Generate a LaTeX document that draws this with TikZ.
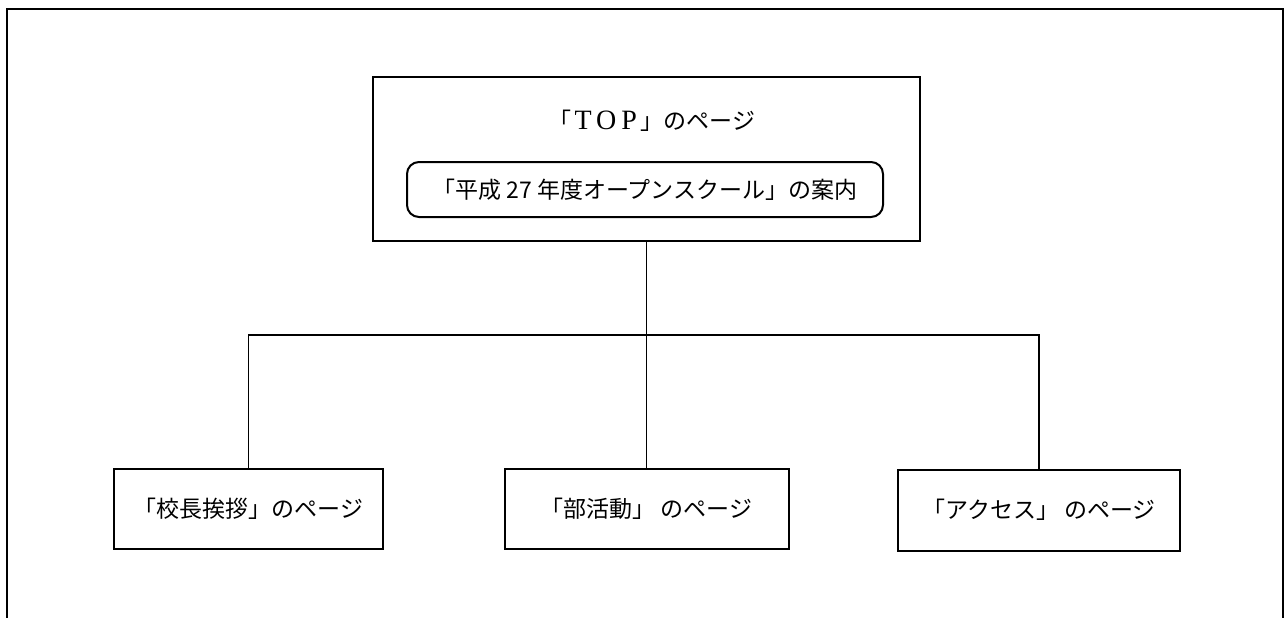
\documentclass[tikz,border=0pt]{standalone}
\usepackage{fontspec}
\newfontfamily\jp{Noto Sans CJK JP}
\newfontfamily\serifL{Liberation Serif}
\newcommand{\fwl}[1]{\makebox[1em]{\serifL\fontsize{28}{28}\selectfont #1}}
\tikzset{
  box/.style={draw, line width=2pt, inner sep=0pt},
  lbl/.style={font=\jp\fontsize{23}{27}\selectfont, inner sep=0pt},
  conn/.style={line width=1.8pt},
}
\begin{document}
\begin{tikzpicture}[x=1pt,y=-1pt]
\useasboundingbox (0,0) rectangle (1286,618);
\draw[line width=2pt] (7,618) -- (7,9) -- (1283,9) -- (1283,618);
% top page
\node[box, minimum width=547pt, minimum height=164pt] (top) at (646.5,159) {};
\node[lbl] (toptitle) at (652,121) {「\fwl{T}\fwl{O}\fwl{P}」のページ};
\node[box, lbl, rounded corners=12pt, minimum width=476pt, minimum height=55pt] (open) at (645,189.5) {「平成 27 年度オープンスクール」の案内};
% bottom pages
\node[box, lbl, minimum width=269pt, minimum height=80pt] (left) at (248.5,509) {「校長挨拶」のページ};
\node[box, lbl, minimum width=284pt, minimum height=80pt] (mid) at (646.5,509) {「部活動」 のページ};
\node[box, lbl, minimum width=282pt, minimum height=81pt] (right) at (1039,510) {「アクセス」 のページ};
% connectors
\coordinate (bus) at (646.5,335);
\draw[conn] (top.south) -- (bus);
\draw[conn] (left.north) -- (left.north |- bus) -- (right.north |- bus) -- (right.north);
\draw[conn] (bus) -- (mid.north);
\end{tikzpicture}
\end{document}
